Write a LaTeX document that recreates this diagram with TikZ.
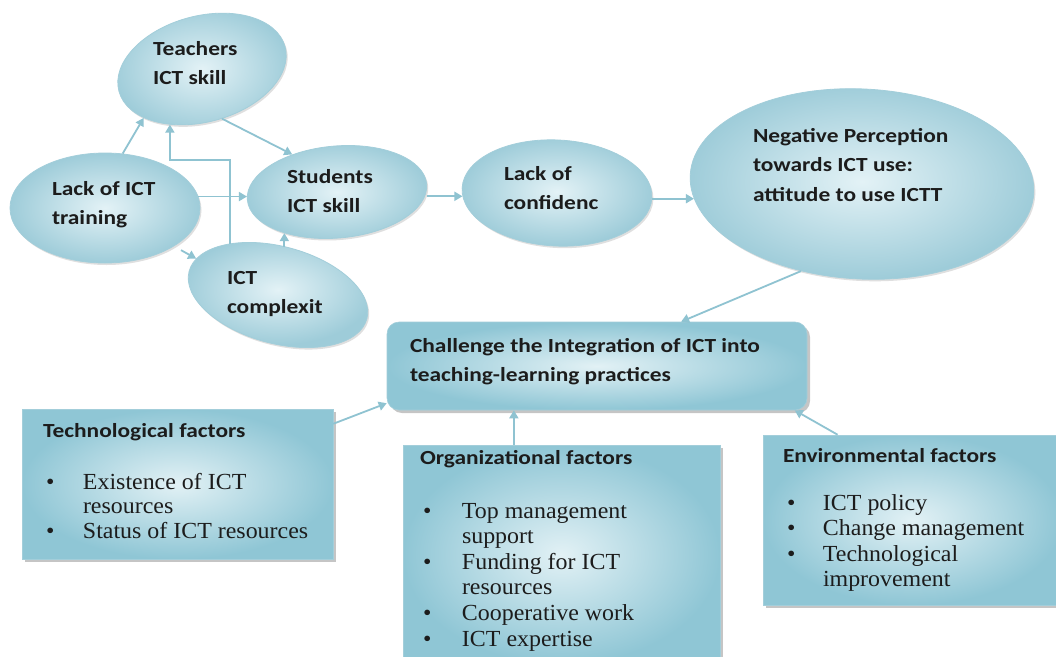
\documentclass[tikz,border=0pt]{standalone}
\usepackage{fontspec}
\setmainfont{Liberation Serif}
\newfontfamily\lblf[FakeStretch=1.17]{Carlito}
\newfontfamily\itmf[FakeStretch=1.04]{Liberation Serif}
\usetikzlibrary{shapes.geometric,shadows,arrows.meta,calc}
\definecolor{ellin}{HTML}{E3F2F6}
\definecolor{ellout}{HTML}{9ECCD9}
\definecolor{elb}{HTML}{A3CEDA}
\definecolor{arrc}{HTML}{8FC3D1}
\definecolor{boxin}{HTML}{E2F1F5}
\definecolor{boxout}{HTML}{8FC6D5}
\definecolor{txt}{HTML}{1C1C1C}
\newcommand\vl[1]{\vtop{\halign{##\hfil\cr#1\crcr}}}
\newcommand\bl[2]{\vtop{\halign{\hbox to #1{##\hfil}&##\hfil\cr#2\crcr}}}
\tikzset{
  ell/.style={ellipse, draw=elb, line width=0.8pt, inner sep=0pt,
    shading=radial, inner color=ellin, outer color=ellout,
    drop shadow={shadow xshift=1.5pt, shadow yshift=-2pt, opacity=0.25}},
  fbox/.style={rectangle, draw=elb, line width=0.6pt, inner sep=0pt,
    shading=radial, inner color=boxin, outer color=boxout,
    drop shadow={shadow xshift=3pt, shadow yshift=-3pt, opacity=0.45, fill=gray}},
  lbl/.style={anchor=base west, inner sep=0pt, outer sep=0pt, text=txt,
    font=\lblf\bfseries\fontsize{20}{29.5}\selectfont},
  itm/.style={anchor=base west, inner sep=0pt, outer sep=0pt, text=txt,
    font=\itmf\fontsize{23}{25.6}\selectfont},
  arr/.style={draw=arrc, line width=1.8pt, -{Triangle[length=8pt,width=9pt]}}
}
\begin{document}
\begin{tikzpicture}[x=1pt,y=-1pt]
\useasboundingbox (0,0) rectangle (1056,656);
\fill[white] (0,0) rectangle (1056,656);
\clip (0,0) rectangle (1056,656);

% ellipses
\node[ell, minimum width=172pt, minimum height=106pt, rotate=15] (teach) at (202,69) {};
\node[ell, minimum width=190pt, minimum height=110pt] (lack) at (105,208) {};
\node[ell, minimum width=180pt, minimum height=92pt, rotate=5] (stud) at (337,192) {};
\node[ell, minimum width=184pt, minimum height=97pt, rotate=-15] (ictc) at (278,295) {};
\node[ell, minimum width=190pt, minimum height=106pt, rotate=-3] (conf) at (557,193) {};
\node[ell, minimum width=344pt, minimum height=190pt, rotate=-3] (neg) at (862,184) {};

% boxes
\node[fbox, rounded corners=12pt, minimum width=420pt, minimum height=88pt] (chal) at (597,366) {};
\node[fbox, minimum width=311pt, minimum height=150pt] (tech) at (177.5,484) {};
\node[fbox, minimum width=317pt, minimum height=219pt] (org) at (561.5,554.5) {};
\node[fbox, minimum width=299pt, minimum height=170pt] (env) at (912.5,520) {};

% ellipse labels
\node[lbl] (teachT) at (153,55) {\vl{Teachers\cr ICT skill}};
\node[lbl] (lackT) at (52,195) {\vl{Lack of ICT\cr training}};
\node[lbl] (studT) at (287,183) {\vl{Students\cr ICT skill}};
\node[lbl] (ictcT) at (227,284) {\vl{ICT\cr complexit}};
\node[lbl] (confT) at (504,180) {\vl{Lack of\cr confidenc}};
\node[lbl] (negT) at (753,142) {\vl{Negative Perception\cr towards ICT use:\cr attitude to use ICTT}};
\node[lbl] (chalT) at (410,352) {\vl{Challenge the Integration of ICT into\cr teaching-learning practices}};

% box contents
\node[lbl] (techT) at (43,437) {Technological factors};
\node[itm, font=\itmf\fontsize{23}{24.5}\selectfont] (techI) at (46,489)
  {\bl{37pt}{•&Existence of ICT\cr &resources\cr •&Status of ICT resources}};
\node[lbl] (orgT) at (420,464) {Organizational factors};
\node[itm] (orgI) at (423,518)
  {\bl{39pt}{•&Top management\cr &support\cr •&Funding for ICT\cr &resources\cr •&Cooperative work\cr •&ICT expertise}};
\node[lbl] (envT) at (783,462) {Environmental factors};
\node[itm] (envI) at (787,510)
  {\bl{36pt}{•&ICT policy\cr •&Change management\cr •&Technological\cr &improvement}};

% connectors
\draw[arr] (lack.72) -- (teach.205);
\draw[arr] (teach.277) -- (stud.135);
\draw[arr] (lack.7) -- (stud.west |- lack.7);
\draw[arr, shorten <=8pt] (lack.331) -- (ictc.171);
\coordinate (elb) at (200,160);
\draw[arr] (ictc.148) |- (elb) -| (teach.225);
\draw[arr] (stud.213 |- ictc.95) -- (stud.213);
\draw[arr] (stud.east |- conf.185) -- (conf.185);
\draw[arr] (conf.east |- neg.188) -- (neg.188);
\draw[arr] (neg.238) -- ($(chal.north west)!0.7!(chal.north east)$);
\draw[arr] ($(tech.north east)!0.1!(tech.south east)$) -- ($(chal.south west)!0.08!(chal.north west)$);
\coordinate (op) at ($(org.north west)!0.35!(org.north east)$);
\draw[arr] (op) -- (op |- chal.south);
\draw[arr] ($(env.north west)!0.25!(env.north east)$) -- ($(chal.south east)!0.03!(chal.south west)$);
\end{tikzpicture}
\end{document}
